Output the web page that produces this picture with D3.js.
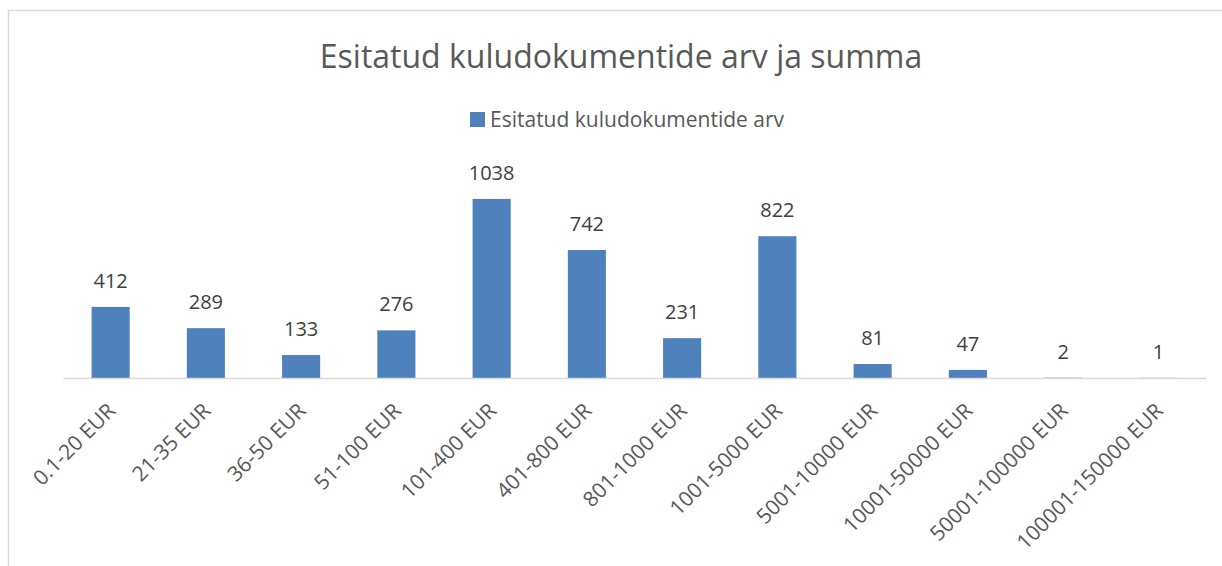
<!DOCTYPE html>
<html>
<head>
<meta charset="utf-8">
<script src="https://cdn.jsdelivr.net/npm/d3@7"></script>
<style>
    html, body { margin: 0; padding: 0; background: #fff; }
    svg { display: block; font-family: "Open Sans", "Noto Sans", sans-serif; }
</style>
</head>
<body>
<div id="chart"></div>
<script>
const categories = [
    "0.1-20 EUR", "21-35 EUR", "36-50 EUR", "51-100 EUR", "101-400 EUR", "401-800 EUR",
    "801-1000 EUR", "1001-5000 EUR", "5001-10000 EUR", "10001-50000 EUR",
    "50001-100000 EUR", "100001-150000 EUR"
];
const counts = [412, 289, 133, 276, 1038, 742, 231, 822, 81, 47, 2, 1];
const seriesName = "Esitatud kuludokumentide arv";
const chartTitle = "Esitatud kuludokumentide arv ja summa";

const width = 1222;
const height = 566;
const plot = { left: 63, right: 1206, top: 171, bottom: 378 };

const svg = d3.select("#chart")
    .append("svg")
    .attr("width", width)
    .attr("height", height);

// chart frame (only left and top edges are visible)
svg.append("rect")
    .attr("x", 8.5)
    .attr("y", 10.5)
    .attr("width", width + 20)
    .attr("height", height + 20)
    .attr("fill", "none")
    .attr("stroke", "#d9d9d9")
    .attr("stroke-width", 1.5);

svg.append("text")
    .attr("x", 621)
    .attr("y", 68)
    .attr("text-anchor", "middle")
    .attr("fill", "#595959")
    .style("font-size", "32px")
    .text(chartTitle);

// legend
const legend = svg.append("g").attr("transform", "translate(470, 112)");
legend.append("rect")
    .attr("width", 15)
    .attr("height", 15)
    .attr("fill", "#4f81bd");
legend.append("text")
    .attr("x", 20)
    .attr("y", 15)
    .attr("fill", "#595959")
    .style("font-size", "21px")
    .text(seriesName);

const x = d3.scaleBand()
    .domain(categories)
    .range([plot.left, plot.right])
    .paddingInner(0.6)
    .paddingOuter(0.3);

const y = d3.scaleLinear()
    .domain([0, 1200])
    .range([plot.bottom, plot.top]);

const data = categories.map((c, i) => ({ cat: c, value: counts[i] }));

svg.append("g")
    .selectAll("rect")
    .data(data)
    .join("rect")
    .attr("x", d => x(d.cat))
    .attr("y", d => y(d.value))
    .attr("width", x.bandwidth())
    .attr("height", d => y(0) - y(d.value))
    .attr("fill", "#4f81bd");

svg.append("g")
    .selectAll("text")
    .data(data)
    .join("text")
    .attr("x", d => x(d.cat) + x.bandwidth() / 2)
    .attr("y", d => y(d.value) - 19)
    .attr("text-anchor", "middle")
    .attr("fill", "#404040")
    .style("font-size", "20px")
    .text(d => d.value);

// x axis
const axis = svg.append("g")
    .attr("transform", `translate(0, ${plot.bottom})`)
    .call(d3.axisBottom(x).tickSize(0).tickSizeOuter(0).tickPadding(0));

axis.select(".domain")
    .attr("stroke", "#d9d9d9")
    .attr("stroke-width", 1.5);

axis.selectAll(".tick text")
    .attr("fill", "#595959")
    .style("font-size", "21px")
    .style("font-family", "\"Open Sans\", \"Noto Sans\", sans-serif")
    .attr("text-anchor", "end")
    .attr("dy", null)
    .attr("y", null)
    .attr("transform", "translate(6, 34) rotate(-45)");
</script>
</body>
</html>
